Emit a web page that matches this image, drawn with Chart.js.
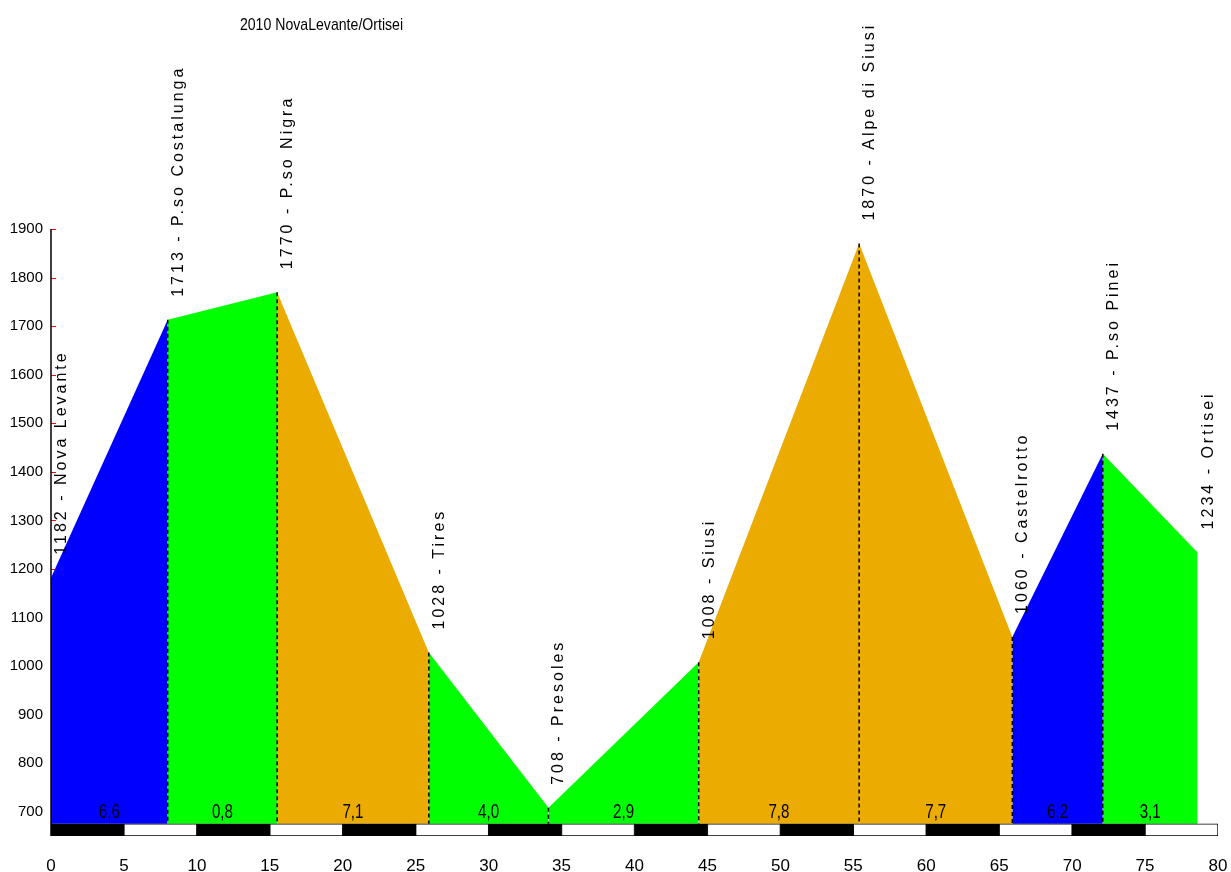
<!DOCTYPE html>
<html>
<head>
<meta charset="utf-8">
<script src="https://cdn.jsdelivr.net/npm/chart.js@4.4.1/dist/chart.umd.min.js"></script>
<style>
  html, body { margin: 0; padding: 0; background: #fff; }
  #wrap { position: relative; width: 1231px; height: 872px; }
  #title { position: absolute; left: 0; top: 14px; width: 643px; text-align: center;
           font-family: 'Liberation Sans', Arial, sans-serif;
           font-size: 17px; line-height: 22px; color: #000;
           transform: scaleX(0.83); transform-origin: 321.5px 50%; }
  canvas { position: absolute; left: 0; top: 0; }
</style>
</head>
<body>
<div id="wrap">
  <canvas id="c" width="1231" height="872"></canvas>
  <div id="title">2010 NovaLevante/Ortisei</div>
</div>
<script>
// ---- data ----
const distances  = [0, 8.0, 15.5, 25.9, 34.1, 44.4, 55.4, 65.9, 72.1, 78.6];           // km
const elevations = [1182, 1713, 1770, 1028, 708, 1008, 1870, 1060, 1437, 1234];         // m
const places     = ['Nova Levante', 'P.so Costalunga', 'P.so Nigra', 'Tires', 'Presoles',
                    'Siusi', 'Alpe di Siusi', 'Castelrotto', 'P.so Pinei', 'Ortisei'];
const gradients  = ['6,6', '0,8', '7,1', '4,0', '2,9', '7,8', '7,7', '6,2', '3,1'];       // % per segment
const yTicks     = [700, 800, 900, 1000, 1100, 1200, 1300, 1400, 1500, 1600, 1700, 1800, 1900];
const xTickStep  = 5;
const xMax       = 80;

// ---- styling ----
const Y_MIN = 650, Y_MAX = 1900, BASE = 675;
const ARIAL = "'Liberation Sans', Arial, sans-serif";
function colorFor(g) {
  const v = parseFloat(g.replace(',', '.'));
  if (v >= 7) return 'rgb(235,171,0)';
  if (v >= 5) return 'rgb(0,0,255)';
  return 'rgb(0,255,0)';
}

const datasets = [];
// filled segments
for (let i = 0; i < distances.length - 1; i++) {
  datasets.push({
    type: 'line',
    data: [{x: distances[i], y: elevations[i]}, {x: distances[i + 1], y: elevations[i + 1]}],
    backgroundColor: colorFor(gradients[i]),
    borderWidth: 0,
    pointRadius: 0,
    fill: {value: BASE},
    order: 3
  });
}
// dashed vertical lines at intermediate points
for (let i = 1; i < distances.length - 1; i++) {
  datasets.push({
    type: 'line',
    data: [{x: distances[i], y: elevations[i]}, {x: distances[i], y: BASE}],
    borderColor: '#000',
    borderWidth: 1.5,
    borderDash: [4, 3],
    pointRadius: 0,
    fill: false,
    order: 1
  });
}
// black / white distance bar
const stripes = [], stripeColors = [];
for (let k = 0; k < xMax / xTickStep; k++) {
  stripes.push({x: k * xTickStep + xTickStep / 2, y: [Y_MIN, BASE]});
  stripeColors.push(k % 2 === 0 ? '#000' : '#fff');
}
datasets.push({
  type: 'bar',
  data: stripes,
  backgroundColor: stripeColors,
  borderColor: '#000',
  borderWidth: 1,
  borderSkipped: false,
  categoryPercentage: 1,
  barPercentage: 1,
  order: 2
});

const labelPlugin = {
  id: 'labels',
  beforeDatasetsDraw(chart) {
    const {ctx, scales: {x, y}} = chart;
    ctx.save();
    ctx.strokeStyle = '#ff0000';
    ctx.lineWidth = 1;
    yTicks.forEach(v => {
      const py = Math.round(y.getPixelForValue(v)) + 0.5;
      ctx.beginPath();
      ctx.moveTo(x.left, py);
      ctx.lineTo(x.left + 5, py);
      ctx.stroke();
    });
    ctx.restore();
  },
  afterDraw(chart) {
    const {ctx, scales: {x, y}} = chart;
    ctx.save();
    // rotated place labels
    ctx.fillStyle = '#000';
    ctx.font = '16px ' + ARIAL;
    if ('letterSpacing' in ctx) ctx.letterSpacing = '3px';
    ctx.textAlign = 'left';
    ctx.textBaseline = 'alphabetic';
    for (let i = 0; i < distances.length; i++) {
      const px = x.getPixelForValue(distances[i]);
      const py = y.getPixelForValue(elevations[i]);
      ctx.save();
      ctx.translate(px + 15, py - 23);
      ctx.rotate(-Math.PI / 2);
      ctx.fillText(elevations[i] + ' - ' + places[i], 0, 0);
      ctx.restore();
    }
    if ('letterSpacing' in ctx) ctx.letterSpacing = '0px';
    // gradient labels (condensed look)
    ctx.font = '21px ' + ARIAL;
    ctx.textAlign = 'center';
    ctx.textBaseline = 'alphabetic';
    for (let i = 0; i < gradients.length; i++) {
      const mx = x.getPixelForValue((distances[i] + distances[i + 1]) / 2);
      ctx.save();
      ctx.translate(mx, y.getPixelForValue(BASE) - 6);
      ctx.scale(0.72, 1);
      ctx.fillText(gradients[i], 0, 0);
      ctx.restore();
    }
    // left axis line
    ctx.strokeStyle = '#000';
    ctx.lineWidth = 1.5;
    ctx.beginPath();
    ctx.moveTo(x.left, y.top);
    ctx.lineTo(x.left, y.bottom);
    ctx.stroke();
    ctx.restore();
  }
};

new Chart(document.getElementById('c'), {
  type: 'line',
  data: {datasets},
  options: {
    responsive: false,
    animation: false,
    events: [],
    layout: {padding: {top: 229, right: 13, left: 0, bottom: 0}},
    plugins: {legend: {display: false}, tooltip: {enabled: false}, title: {display: false}},
    scales: {
      x: {
        type: 'linear',
        min: 0, max: xMax,
        offset: false,
        grid: {display: false, drawTicks: false},
        border: {display: false},
        ticks: {stepSize: xTickStep, padding: 20, color: '#000', font: {family: ARIAL, size: 17}, maxRotation: 0,
                callback: v => String(v)},
        afterFit(s) { s.height = 36; s.paddingLeft = 0; s.paddingRight = 0; }
      },
      y: {
        type: 'linear',
        min: Y_MIN, max: Y_MAX,
        grid: {display: false, drawTicks: false},
        border: {display: false},
        afterBuildTicks(s) { s.ticks = yTicks.map(v => ({value: v})); },
        ticks: {padding: 8, color: '#000', font: {family: ARIAL, size: 15}, callback: v => String(v)},
        afterFit(s) { s.width = 51; s.paddingTop = 0; s.paddingBottom = 0; }
      }
    }
  },
  plugins: [labelPlugin]
});
</script>
</body>
</html>
